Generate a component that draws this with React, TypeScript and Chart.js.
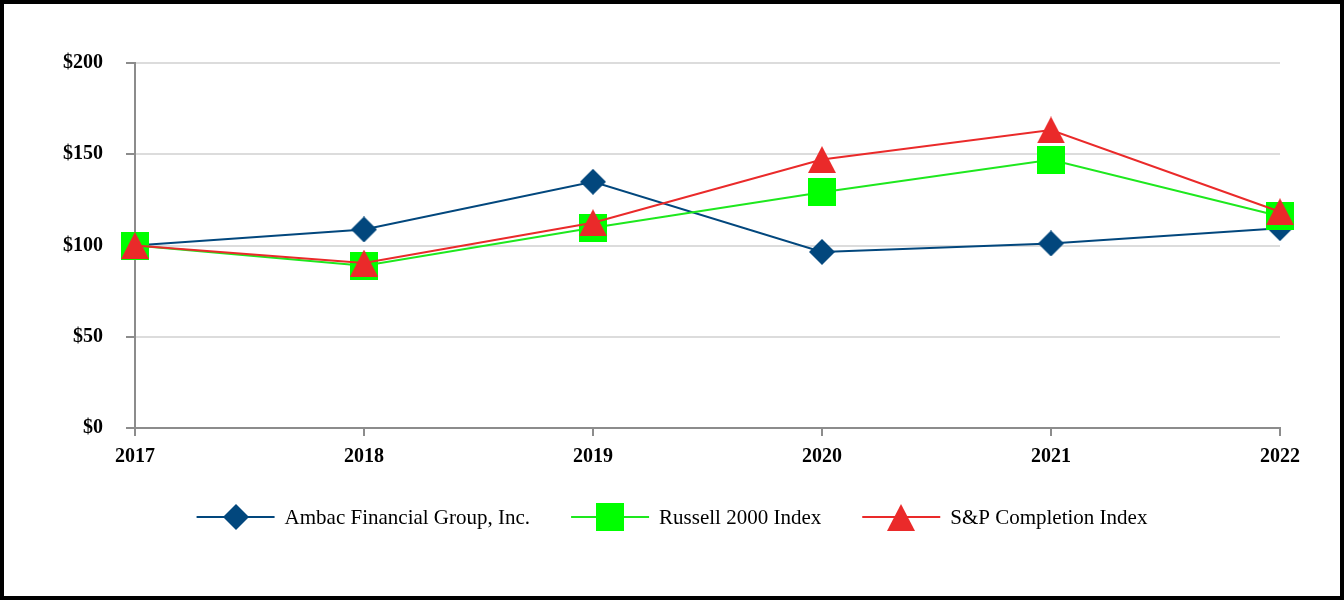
import React, { useEffect, useRef } from 'react';
import { Chart, registerables } from 'chart.js';

Chart.register(...registerables);

const years = ['2017', '2018', '2019', '2020', '2021', '2022'];
const ambac = [100, 108.8, 134.9, 96.5, 101.1, 109.5];
const russell = [100, 88.9, 109.7, 129.2, 147.0, 116.0];
const spCompletion = [100, 90.4, 112.5, 147.1, 163.3, 118.5];
const seriesNames = ['Ambac Financial Group, Inc.', 'Russell 2000 Index', 'S&P Completion Index'];
const yMin = 0;
const yMax = 200;
const yStep = 50;

const BLUE = '#02477d';
const GREEN = '#00ff00';
const GREEN_LINE = '#1ee81e';
const RED = '#ea2a2a';
const SERIF = '"Liberation Serif", "Times New Roman", serif';

function makeMarker(kind: string, color: string): HTMLCanvasElement {
  const c = document.createElement('canvas');
  let w = 26, h = 26;
  if (kind === 'square') { w = 28; h = 28; }
  if (kind === 'triangle') { w = 28; h = 27; }
  c.width = w;
  c.height = h;
  const ctx = c.getContext('2d')!;
  ctx.fillStyle = color;
  ctx.beginPath();
  if (kind === 'diamond') {
    ctx.moveTo(w / 2, 0);
    ctx.lineTo(w, h / 2);
    ctx.lineTo(w / 2, h);
    ctx.lineTo(0, h / 2);
  } else if (kind === 'square') {
    ctx.rect(0, 0, w, h);
  } else {
    ctx.moveTo(w / 2, 0);
    ctx.lineTo(w, h);
    ctx.lineTo(0, h);
  }
  ctx.closePath();
  ctx.fill();
  return c;
}

const framePlugin = {
  id: 'frame',
  beforeDraw(chart: any) {
    const ctx = chart.ctx;
    ctx.save();
    ctx.fillStyle = '#ffffff';
    ctx.fillRect(0, 0, chart.width, chart.height);
    ctx.restore();
  },
  afterDraw(chart: any) {
    const ctx = chart.ctx;
    ctx.save();
    ctx.strokeStyle = '#000000';
    ctx.lineWidth = 4;
    ctx.strokeRect(2, 2, chart.width - 4, chart.height - 4);
    ctx.restore();
  },
};

const legendPlugin = {
  id: 'lineLegend',
  afterDraw(chart: any) {
    const ctx = chart.ctx;
    ctx.save();
    ctx.font = '21px ' + SERIF;
    const lineLen = 78;
    const gapText = 10;
    const gapItem = 41;
    const ds = chart.data.datasets;
    const widths = ds.map((d: any) => ctx.measureText(d.label).width);
    let total = 0;
    widths.forEach((w: number, i: number) => {
      total += lineLen + gapText + w + (i > 0 ? gapItem : 0);
    });
    let x = chart.width / 2 - total / 2;
    const y = 517;
    ds.forEach((d: any, i: number) => {
      ctx.strokeStyle = d.borderColor;
      ctx.lineWidth = 2;
      ctx.beginPath();
      ctx.moveTo(x, y);
      ctx.lineTo(x + lineLen, y);
      ctx.stroke();
      const img = d.pointStyle as HTMLCanvasElement;
      ctx.drawImage(img, Math.round(x + lineLen / 2 - img.width / 2), Math.round(y - img.height / 2));
      ctx.fillStyle = '#000000';
      ctx.textAlign = 'left';
      ctx.textBaseline = 'middle';
      ctx.fillText(d.label, x + lineLen + gapText, y + 1);
      x += lineLen + gapText + widths[i] + gapItem;
    });
    ctx.restore();
  },
};

export default function App() {
  const ref = useRef<HTMLCanvasElement | null>(null);

  useEffect(() => {
    document.body.style.margin = '0';
    if (!ref.current) return;
    const chart = new Chart(ref.current, {
      type: 'line',
      data: {
        labels: years,
        datasets: [
          {
            label: seriesNames[0],
            data: ambac,
            borderColor: BLUE,
            backgroundColor: BLUE,
            borderWidth: 2,
            pointStyle: makeMarker('diamond', BLUE) as any,
            clip: false as any,
            order: 2,
          },
          {
            label: seriesNames[1],
            data: russell,
            borderColor: GREEN_LINE,
            backgroundColor: GREEN,
            borderWidth: 2,
            pointStyle: makeMarker('square', GREEN) as any,
            clip: false as any,
            order: 1,
          },
          {
            label: seriesNames[2],
            data: spCompletion,
            borderColor: RED,
            backgroundColor: RED,
            borderWidth: 2,
            pointStyle: makeMarker('triangle', RED) as any,
            clip: false as any,
            order: 0,
          },
        ],
      },
      options: {
        responsive: false,
        animation: false,
        devicePixelRatio: 1,
        layout: { padding: { top: 63, left: 10, right: 64, bottom: 112 } },
        plugins: {
          legend: { display: false },
          tooltip: { enabled: false },
        },
        elements: { line: { tension: 0 } },
        scales: {
          x: {
            offset: false,
            grid: {
              drawOnChartArea: false,
              drawTicks: true,
              tickLength: 8,
              tickColor: '#8c8c8c',
              lineWidth: 2,
            },
            border: { display: true, color: '#8c8c8c', width: 2 },
            ticks: {
              color: '#000000',
              padding: 9,
              maxRotation: 0,
              font: { family: SERIF, size: 20, weight: 'bold' },
            },
            afterFit: (scale: any) => { scale.height = 60; },
          },
          y: {
            min: yMin,
            max: yMax,
            grid: {
              color: '#dcdcdc',
              lineWidth: 2,
              drawTicks: true,
              tickLength: 9,
              tickColor: '#8c8c8c',
            },
            border: { display: true, color: '#8c8c8c', width: 2 },
            ticks: {
              stepSize: yStep,
              color: '#000000',
              padding: 23,
              font: { family: SERIF, size: 20, weight: 'bold' },
              callback: (v: any) => '$' + v,
            },
            afterFit: (scale: any) => { scale.width = 125; },
          },
        },
      },
      plugins: [framePlugin, legendPlugin],
    });
    return () => chart.destroy();
  }, []);

  return (
    <div style={{ width: 1344, height: 600, position: 'relative' }}>
      <canvas ref={ref} width={1344} height={600} style={{ display: 'block' }} />
    </div>
  );
}
